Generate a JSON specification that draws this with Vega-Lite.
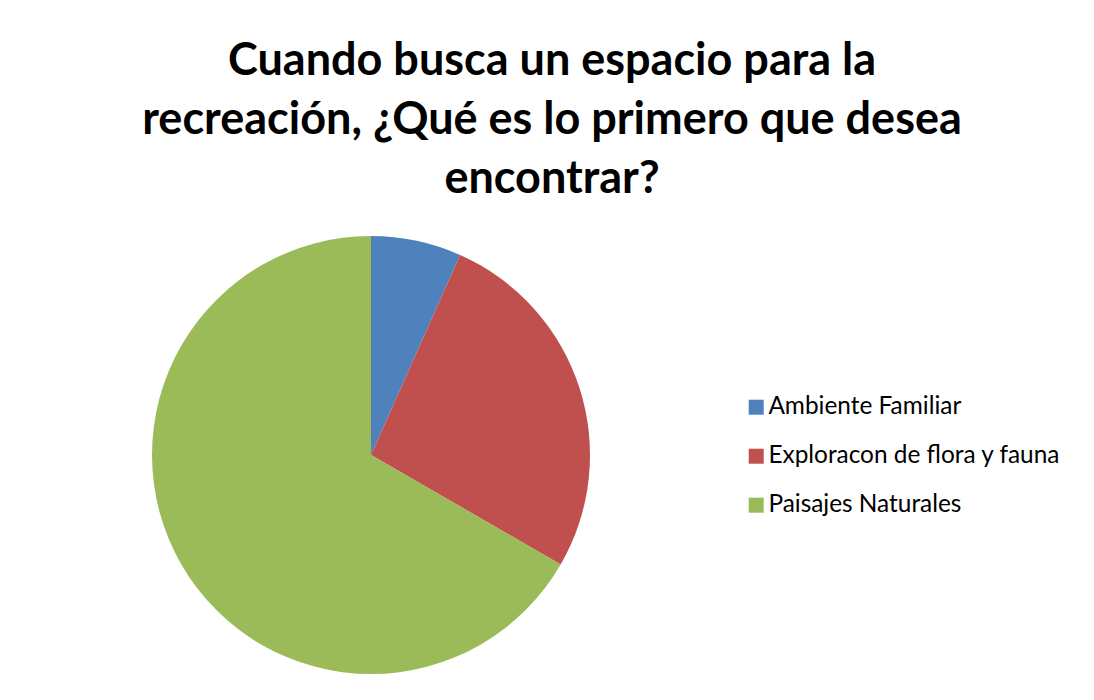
{
  "$schema": "https://vega.github.io/schema/vega-lite/v6.json",
  "autosize": {"type": "none"},
  "padding": {"left": 152, "top": 236, "right": 504, "bottom": 26},
  "width": 438,
  "height": 438,
  "background": "white",
  "title": {
    "text": ["Cuando busca un espacio para la", "recreación, ¿Qué es lo primero que desea", "encontrar?"],
    "font": "Lato",
    "fontSize": 45,
    "fontWeight": "bold",
    "color": "#000000",
    "lineHeight": 59,
    "anchor": "middle",
    "dx": 181,
    "offset": 34
  },
  "data": {
    "values": [
      {"categoria": "Ambiente Familiar", "valor": 2, "orden": 1},
      {"categoria": "Exploracon de flora y fauna", "valor": 8, "orden": 2},
      {"categoria": "Paisajes Naturales", "valor": 20, "orden": 3}
    ]
  },
  "mark": {"type": "arc", "outerRadius": 219},
  "encoding": {
    "theta": {"field": "valor", "type": "quantitative", "stack": true},
    "order": {"field": "orden", "type": "quantitative"},
    "color": {
      "field": "categoria",
      "type": "nominal",
      "scale": {
        "domain": ["Ambiente Familiar", "Exploracon de flora y fauna", "Paisajes Naturales"],
        "range": ["#4F81BD", "#C0504D", "#9BBB59"]
      },
      "legend": {
        "title": null,
        "orient": "none",
        "legendX": 592,
        "legendY": 159,
        "padding": 0,
        "symbolType": "square",
        "symbolSize": 225,
        "symbolStrokeWidth": 0,
        "labelFont": "Lato",
        "labelFontSize": 24.4,
        "labelColor": "#000000",
        "labelOffset": 0,
        "rowPadding": 24,
        "labelLimit": 400
      }
    }
  },
  "config": {"view": {"stroke": null}}
}
